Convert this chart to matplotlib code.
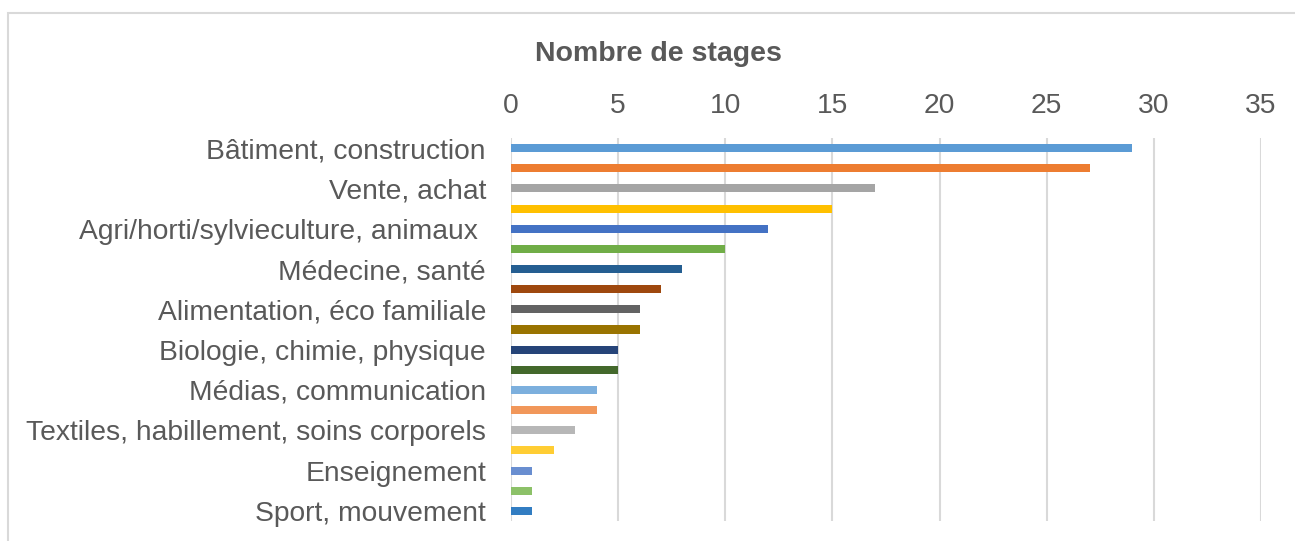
import matplotlib.pyplot as plt
from matplotlib.patches import Rectangle

plt.rcParams["font.family"] = ["Liberation Sans", "DejaVu Sans"]

# only every other category label is visible in the source chart
labels = ["Bâtiment, construction", "", "Vente, achat", "",
          "Agri/horti/sylvieculture, animaux ", "", "Médecine, santé", "",
          "Alimentation, éco familiale", "", "Biologie, chimie, physique", "",
          "Médias, communication", "", "Textiles, habillement, soins corporels", "",
          "Enseignement", "", "Sport, mouvement"]
values = [29, 27, 17, 15, 12, 10, 8, 7, 6, 6, 5, 5, 4, 4, 3, 2, 1, 1, 1]
colors = ["#5B9BD5", "#ED7D31", "#A5A5A5", "#FFC000", "#4472C4", "#70AD47",
          "#255E91", "#9E480E", "#636363", "#997300", "#264478", "#43682B",
          "#7CAFDD", "#F1975A", "#B7B7B7", "#FFCD33", "#698ED0", "#8CC168",
          "#327DC2"]
ticks = [0, 5, 10, 15, 20, 25, 30, 35]

txt = "#595959"
fig = plt.figure(figsize=(12.95, 5.41), dpi=100)
fig.patches.append(Rectangle((8 / 1295, -0.1), 1.2, 1 - 13 / 541 + 0.1,
                             transform=fig.transFigure, fill=False,
                             edgecolor="#D9D9D9", linewidth=1.5))

ax = fig.add_axes([511 / 1295, 1 - 521 / 541, 750 / 1295, 383 / 541])
y = list(range(len(values)))
ax.barh(y, values, height=0.4, color=colors, zorder=3)
ax.set_ylim(len(values) - 0.5, -0.5)
ax.set_xlim(0, 35)
ax.set_xticks(ticks)
ax.xaxis.tick_top()
ax.set_yticks(y)
ax.set_yticklabels(labels)
ax.tick_params(axis="both", length=0, labelsize=20.3, colors=txt)
ax.tick_params(axis="x", pad=13.5)
ax.tick_params(axis="y", pad=18)
ax.grid(axis="x", color="#D9D9D9", linewidth=1.5, zorder=0)
for s in ax.spines.values():
    s.set_visible(False)

fig.text(658 / 1295, 1 - 54 / 541, "Nombre de stages", ha="center", va="center",
         fontsize=20.5, fontweight="bold", color=txt)

fig.savefig("out.png", dpi=100)
